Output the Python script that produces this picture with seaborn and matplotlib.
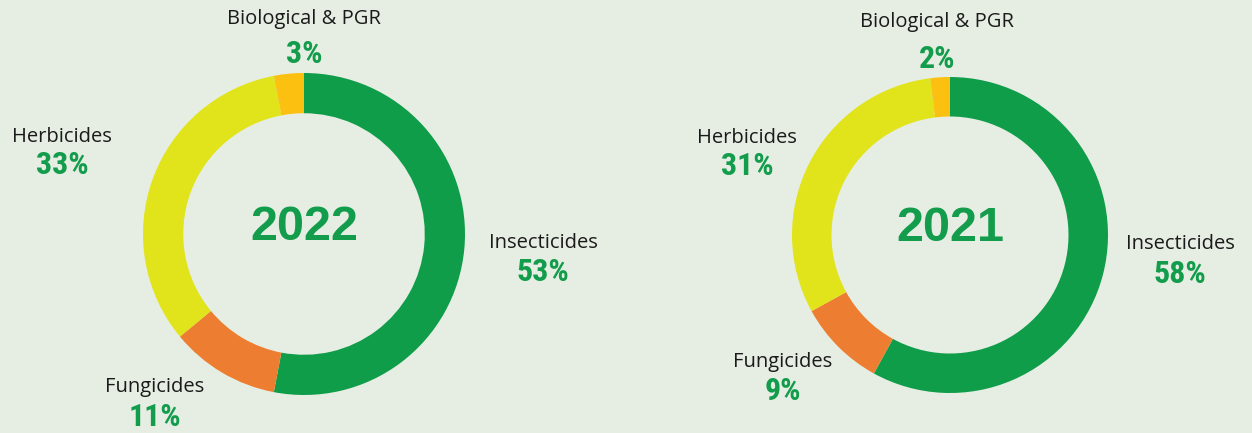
"""
Crop protection sales split by segment, 2022 vs 2021, drawn as two donuts.
"""
import matplotlib
matplotlib.use("Agg")
import matplotlib.pyplot as plt
import seaborn as sns

segments = ["Insecticides", "Fungicides", "Herbicides", "Biological & PGR"]
share_2022 = [53, 11, 33, 3]
share_2021 = [58, 9, 31, 2]
years = ["2022", "2021"]

seg_colors = ["#0f9d4a", "#ed7d31", "#e1e31b", "#fcc010"]
BG = "#e6eee3"
GREEN = "#129c4b"
W, H = 1252, 433

sns.set_theme(style="white")
plt.rcParams["font.family"] = ["Open Sans", "DejaVu Sans"]


def draw_donut(fig, values, year, cx, cy, r, labels_at):
    """Draw one donut centred at pixel (cx, cy) from the top-left corner,
    plus its segment labels at the given pixel positions (x, name y, pct y)."""
    ax = fig.add_axes([(cx - r) / W, (H - cy - r) / H, 2 * r / W, 2 * r / H])
    ax.pie(values, colors=seg_colors, startangle=90, counterclock=False,
           radius=1, wedgeprops=dict(width=0.25, linewidth=0))
    ax.set_xlim(-1, 1)
    ax.set_ylim(-1, 1)
    ax.set_facecolor("none")
    ax.axis("off")
    ax.text(0, 0.04, year, ha="center", va="center", fontsize=35,
            fontweight="bold", color=GREEN, family="Liberation Sans")

    for name, val, (lx, ny, py) in zip(segments, values, labels_at):
        fig.text(lx / W, 1 - ny / H, name, ha="center", va="center",
                 fontsize=14.5, color="#1a1a1a")
        fig.text(lx / W, 1 - py / H, "{}%".format(val),
                 ha="center", va="center", fontsize=23, fontweight="bold",
                 color=GREEN, family=["Roboto Condensed", "Roboto"])


def main():
    fig = plt.figure(figsize=(W / 100, H / 100), dpi=100, facecolor=BG)

    # label anchors: insecticides, fungicides, herbicides, biological
    draw_donut(fig, share_2022, years[0], 304, 234, 161,
               [(543, 243, 272), (155, 387, 417), (62, 137, 165),
                (304, 19, 54)])
    draw_donut(fig, share_2021, years[1], 950, 235, 158,
               [(1180, 244, 274), (783, 362, 391), (747, 138, 166),
                (937, 22, 59)])

    fig.savefig("out.png", dpi=100, facecolor=BG)


if __name__ == '__main__':
    main()
